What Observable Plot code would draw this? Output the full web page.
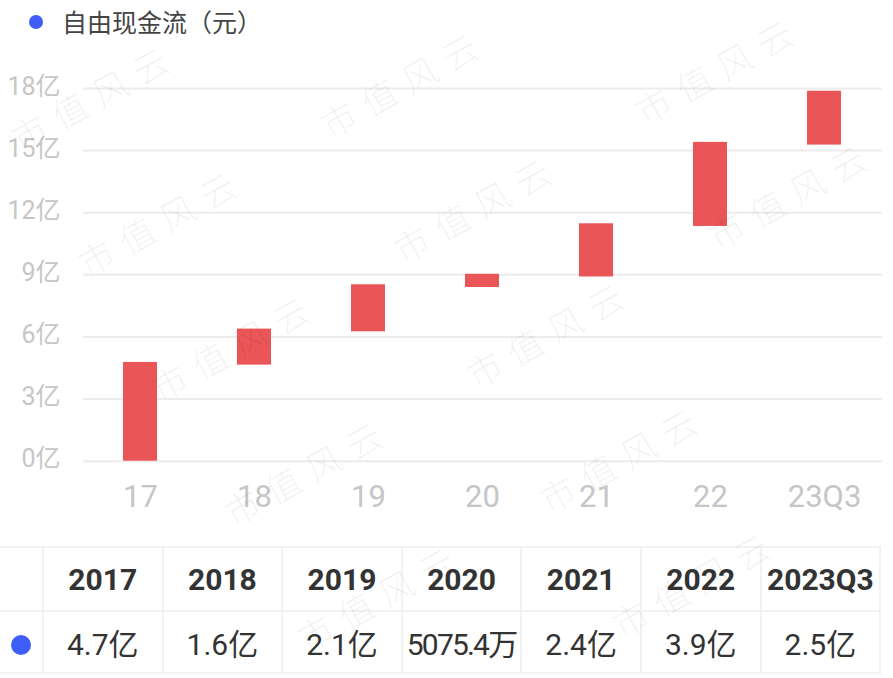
<!DOCTYPE html>
<html>
<head>
<meta charset="utf-8">
<script src="https://cdn.jsdelivr.net/npm/d3@7"></script>
<script src="https://cdn.jsdelivr.net/npm/@observablehq/plot@0.6"></script>
<style>
  html, body { margin: 0; padding: 0; background: #fff; }
  #wrap { position: relative; width: 893px; height: 678px; overflow: hidden; background: #fff;
          font-family: Roboto, "Noto Sans CJK SC", sans-serif; }
  #legend { position: absolute; left: 0; top: 0; height: 42px; width: 400px; }
  #legend .dot { position: absolute; left: 29px; top: 14.5px; width: 14px; height: 14px; border-radius: 50%; background: #3f5ef9; }
  #legend .txt { position: absolute; left: 62px; top: 2px; font-size: 25px; line-height: 38px; color: #444; font-family: "Noto Sans CJK SC", sans-serif; }
  #chart { position: absolute; left: 0; top: 40px; }
  #tbl { position: absolute; left: 0; top: 546px; border-collapse: collapse; table-layout: fixed; }
  #tbl td { border: 2px solid #f2f2f2; text-align: center; padding: 0; color: #333; white-space: nowrap; overflow: visible; }
  #tbl tr td:first-child { border-left: none; }
  #tbl tr.head td { height: 62px; font-size: 30px; font-weight: bold; }
  #tbl tr.vals td { height: 60px; font-size: 30px; }
  #tbl .bdot { display: inline-block; width: 20px; height: 20px; border-radius: 50%; background: #3f5ef9; vertical-align: middle; }
  #wm { position: absolute; left: 0; top: 0; pointer-events: none; }
</style>
</head>
<body>
<div id="wrap">
  <div id="legend"><div class="dot"></div><div class="txt">自由现金流（元）</div></div>
  <div id="chart"></div>
  <table id="tbl"></table>
</div>
<script>
// ---- data ----
const periods = ["2017", "2018", "2019", "2020", "2021", "2022", "2023Q3"];
const tickLabels = ["17", "18", "19", "20", "21", "22", "23Q3"];
const values = [4.77, 1.61, 2.14, 0.5075, 2.44, 3.93, 2.47]; // 亿元
const valueLabels = ["4.7亿", "1.6亿", "2.1亿", "5075.4万", "2.4亿", "3.9亿", "2.5亿"];
const yTicks = [0, 3, 6, 9, 12, 15, 18];
const legendTitle = "自由现金流（元）";
const watermarkText = "市值风云";

// waterfall table built from the arrays
let run = 0;
const rows = periods.map((p, i) => {
  const start = run;
  run += values[i];
  return { period: p, start, end: run, idx: i };
});

const barColor = "#ea5558";
const fontFam = 'Roboto, "Noto Sans CJK SC", sans-serif';

const chart = Plot.plot({
  width: 893,
  height: 500,
  marginTop: 48,
  marginBottom: 79.3,
  marginLeft: 83,
  marginRight: 11,
  style: { fontFamily: fontFam, background: "transparent", overflow: "visible" },
  x: { domain: periods, paddingInner: 0.7, paddingOuter: 0.35, label: null },
  y: { domain: [0, 18], label: null },
  marks: [
    Plot.gridY(yTicks, { stroke: "#ececec", strokeOpacity: 1, strokeWidth: 2 }),
    Plot.axisY(yTicks, {
      tickSize: 0, tickPadding: 23, fontSize: 25, fill: "#c6c6c6", dy: -2,
      tickFormat: d => d + "亿", label: null
    }),
    Plot.axisX({
      tickSize: 0, tickPadding: 23.5, fontSize: 31, fill: "#c6c6c6",
      tickFormat: d => tickLabels[periods.indexOf(d)], label: null
    }),
    Plot.barY(rows.filter(d => d.idx === 0), {
      x: "period", y1: "start", y2: "end", fill: barColor, insetLeft: 0, insetRight: 0
    }),
    Plot.barY(rows.filter(d => d.idx > 0), {
      x: "period", y1: "start", y2: "end", fill: barColor, insetLeft: 0, insetRight: 0, insetBottom: -2.7
    })
  ]
});
document.getElementById("chart").appendChild(chart);
document.querySelector("#legend .txt").textContent = legendTitle;

// table
const tbl = document.getElementById("tbl");
const colW = [43].concat(periods.map(() => 119.6));
const cg = document.createElement("colgroup");
colW.forEach(w => { const c = document.createElement("col"); c.style.width = w + "px"; cg.appendChild(c); });
tbl.appendChild(cg);
tbl.style.width = colW.reduce((a, b) => a + b, 0) + "px";
const trH = document.createElement("tr"); trH.className = "head";
trH.appendChild(document.createElement("td"));
periods.forEach(p => { const td = document.createElement("td"); td.textContent = p; trH.appendChild(td); });
tbl.appendChild(trH);
const trV = document.createElement("tr"); trV.className = "vals";
const td0 = document.createElement("td"); td0.innerHTML = '<span class="bdot"></span>'; trV.appendChild(td0);
valueLabels.forEach(v => {
  const td = document.createElement("td"); td.textContent = v;
  if (v.length > 5) td.style.letterSpacing = "-1.8px";
  trV.appendChild(td);
});
tbl.appendChild(trV);

// watermark overlay (decoration)
const ns = "http://www.w3.org/2000/svg";
const wm = document.createElementNS(ns, "svg");
wm.setAttribute("id", "wm"); wm.setAttribute("width", 893); wm.setAttribute("height", 678);
document.getElementById("wrap").appendChild(wm);
const o = [88, 95], a = [315, -13.5], b = [73, 125];
for (let i = -3; i <= 4; i++) {
  for (let j = -2; j <= 6; j++) {
    let cx = o[0] + i * a[0] + j * b[0];
    let cy = o[1] + i * a[1] + j * b[1];
    if (cx < -150 || cx > 1050 || cy < -100 || cy > 780) continue;
    const t = document.createElementNS(ns, "text");
    const place = () => t.setAttribute("transform", `translate(${cx},${cy}) rotate(-29)`);
    place();
    t.setAttribute("text-anchor", "middle");
    t.setAttribute("dominant-baseline", "central");
    t.setAttribute("font-size", 35);
    t.setAttribute("font-weight", 300);
    t.setAttribute("letter-spacing", 11);
    t.setAttribute("font-family", '"Noto Sans CJK SC", sans-serif');
    t.setAttribute("fill", "rgba(0,0,0,0.06)");
    t.textContent = watermarkText;
    wm.appendChild(t);
    const r = t.getBoundingClientRect();
    const dxL = -r.left, dxR = r.right - 893, dyT = -r.top, dyB = r.bottom - 678;
    const over = Math.max(dxL, dxR, dyT, dyB);
    if (over > 22) { wm.removeChild(t); continue; }
    if (dxL > 0) cx += dxL + 1;
    if (dxR > 0) cx -= dxR + 1;
    if (dyT > 0) cy += dyT + 1;
    if (dyB > 0) cy -= dyB + 1;
    place();
  }
}
</script>
</body>
</html>
